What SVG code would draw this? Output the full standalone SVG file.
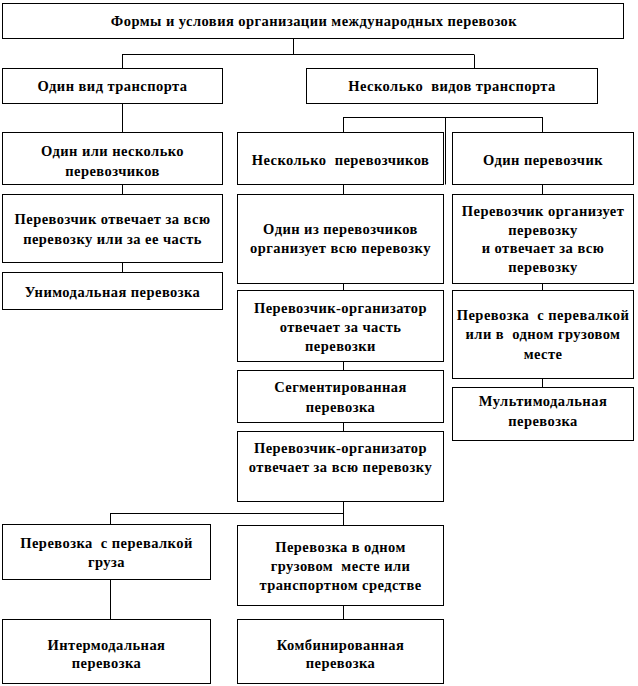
<svg xmlns="http://www.w3.org/2000/svg" width="638" height="686" viewBox="0 0 638 686">
<style>
rect{fill:#fff;stroke:#000;stroke-width:1}
.t{font-family:"Times New Roman","Liberation Serif","DejaVu Serif",serif;font-weight:bold;font-size:14.5px;letter-spacing:0.45px;fill:#000;text-anchor:middle}
.c line{stroke:#000;stroke-width:1}
</style>
<rect x="0" y="0" width="638" height="686" style="stroke:none"/>
<g class="c" id="connectors">
<line x1="293.5" y1="38.5" x2="293.5" y2="54.5"/>
<line x1="122" y1="54.5" x2="474" y2="54.5"/>
<line x1="122.5" y1="54.5" x2="122.5" y2="68.5"/>
<line x1="474.5" y1="54.5" x2="474.5" y2="68.5"/>
<line x1="122.5" y1="103.5" x2="122.5" y2="132.5"/>
<line x1="343" y1="117.5" x2="543" y2="117.5"/>
<line x1="343.5" y1="117.5" x2="343.5" y2="132.5"/>
<line x1="542.5" y1="117.5" x2="542.5" y2="132.5"/>
<line x1="445.5" y1="117.5" x2="445.5" y2="184.5"/>
<line x1="122.5" y1="184.5" x2="122.5" y2="194.5"/>
<line x1="122.5" y1="262.5" x2="122.5" y2="272.5"/>
<line x1="343.5" y1="184.5" x2="343.5" y2="194.5"/>
<line x1="343.5" y1="283.5" x2="343.5" y2="290.5"/>
<line x1="343.5" y1="361.5" x2="343.5" y2="370.5"/>
<line x1="343.5" y1="422.5" x2="343.5" y2="431.5"/>
<line x1="343.5" y1="501.5" x2="343.5" y2="525.5"/>
<line x1="110" y1="513.5" x2="344" y2="513.5"/>
<line x1="110.5" y1="513.5" x2="110.5" y2="524.5"/>
<line x1="110.5" y1="579.5" x2="110.5" y2="619.5"/>
<line x1="343.5" y1="605.5" x2="343.5" y2="619.5"/>
<line x1="542.5" y1="184.5" x2="542.5" y2="194.5"/>
<line x1="542.5" y1="283.5" x2="542.5" y2="290.5"/>
<line x1="542.5" y1="378.5" x2="542.5" y2="387.5"/>
</g>
<g id="n0"><rect x="2.5" y="3.5" width="621" height="35"/><text class="t" x="314" y="26">Формы и условия организации международных перевозок</text></g>
<g id="n1"><rect x="2.5" y="68.5" width="220" height="35"/><text class="t" x="112.5" y="91">Один вид транспорта</text></g>
<g id="n2"><rect x="306.5" y="68.5" width="291" height="35"/><text class="t" x="452" y="91" xml:space="preserve">Несколько  видов транспорта</text></g>
<g id="n3"><rect x="2.5" y="132.5" width="220" height="52"/><text class="t" x="112.5" y="156">Один или несколько</text><text class="t" x="112.5" y="176">перевозчиков</text></g>
<g id="n4"><rect x="237.5" y="132.5" width="206" height="52"/><text class="t" x="340.5" y="165" xml:space="preserve">Несколько  перевозчиков</text></g>
<g id="n5"><rect x="452.5" y="132.5" width="181" height="52"/><text class="t" x="543" y="165">Один перевозчик</text></g>
<g id="n6"><rect x="2.5" y="194.5" width="220" height="68"/><text class="t" x="112.5" y="224">Перевозчик отвечает за всю</text><text class="t" x="112.5" y="244">перевозку или за ее часть</text></g>
<g id="n7"><rect x="2.5" y="272.5" width="220" height="37"/><text class="t" x="112.5" y="297">Унимодальная перевозка</text></g>
<g id="n8"><rect x="237.5" y="194.5" width="206" height="89"/><text class="t" x="340.5" y="234">Один из перевозчиков</text><text class="t" x="340.5" y="253">организует всю перевозку</text></g>
<g id="n9"><rect x="452.5" y="194.5" width="181" height="89"/><text class="t" x="543" y="216">Перевозчик организует</text><text class="t" x="543" y="235">перевозку</text><text class="t" x="543" y="253">и отвечает за всю</text><text class="t" x="543" y="272">перевозку</text></g>
<g id="n10"><rect x="237.5" y="290.5" width="206" height="71"/><text class="t" x="340.5" y="313">Перевозчик-организатор</text><text class="t" x="340.5" y="332">отвечает за часть</text><text class="t" x="340.5" y="351">перевозки</text></g>
<g id="n11"><rect x="452.5" y="290.5" width="181" height="88"/><text class="t" x="543" y="320" xml:space="preserve">Перевозка  с перевалкой</text><text class="t" x="543" y="339" xml:space="preserve">или в  одном грузовом</text><text class="t" x="543" y="359">месте</text></g>
<g id="n12"><rect x="237.5" y="370.5" width="206" height="52"/><text class="t" x="340.5" y="392">Сегментированная</text><text class="t" x="340.5" y="412">перевозка</text></g>
<g id="n13"><rect x="452.5" y="387.5" width="181" height="53"/><text class="t" x="543" y="406">Мультимодальная</text><text class="t" x="543" y="426">перевозка</text></g>
<g id="n14"><rect x="237.5" y="431.5" width="206" height="70"/><text class="t" x="340.5" y="453">Перевозчик-организатор</text><text class="t" x="340.5" y="472">отвечает за всю перевозку</text></g>
<g id="n15"><rect x="2.5" y="524.5" width="208" height="55"/><text class="t" x="106.5" y="548" xml:space="preserve">Перевозка  с перевалкой</text><text class="t" x="106.5" y="567">груза</text></g>
<g id="n16"><rect x="237.5" y="525.5" width="206" height="80"/><text class="t" x="340.5" y="552">Перевозка в одном</text><text class="t" x="340.5" y="571" xml:space="preserve">грузовом  месте или</text><text class="t" x="340.5" y="590">транспортном средстве</text></g>
<g id="n17"><rect x="2.5" y="619.5" width="208" height="64"/><text class="t" x="106.5" y="650">Интермодальная</text><text class="t" x="106.5" y="668">перевозка</text></g>
<g id="n18"><rect x="237.5" y="619.5" width="206" height="64"/><text class="t" x="340.5" y="650">Комбинированная</text><text class="t" x="340.5" y="668">перевозка</text></g>
</svg>
